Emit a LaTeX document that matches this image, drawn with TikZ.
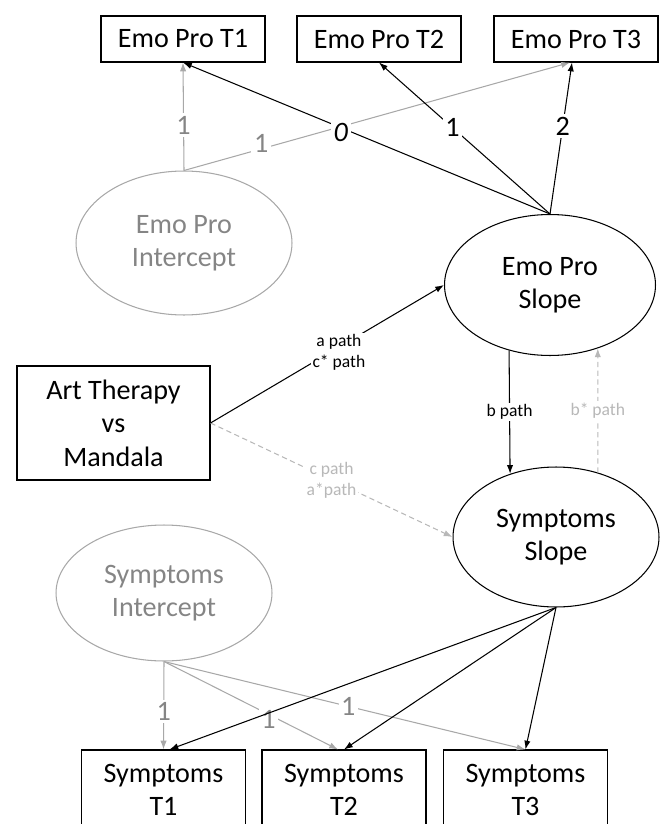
\documentclass[tikz,border=0pt]{standalone}
\usepackage{fontspec}
\setmainfont{Carlito}
\usetikzlibrary{shapes.geometric,arrows.meta}

\definecolor{lightline}{gray}{0.66}
\definecolor{lighttext}{gray}{0.52}
\definecolor{dashline}{gray}{0.72}

\tikzset{
  obs/.style={draw,line width=0.6pt,inner sep=0pt,align=center,
    minimum width=3.28cm,minimum height=0.92cm,font=\fontsize{16}{19}\selectfont},
  latent/.style={draw,ellipse,line width=0.6pt,inner sep=0pt,align=center,
    font=\fontsize{16}{19}\selectfont},
  faded/.style={draw=lightline,text=lighttext},
  path/.style={->,>={Latex[length=5pt,width=3.6pt]},line width=0.6pt},
  greypath/.style={path,draw=lightline},
  dashpath/.style={path,draw=dashline,dash pattern=on 3pt off 2pt},
  lbl/.style={fill=white,inner sep=1.5pt,font=\fontsize{16}{19}\selectfont},
  smalllbl/.style={fill=white,inner sep=1pt,align=center,font=\fontsize{10}{12}\selectfont}
}

\begin{document}
\begin{tikzpicture}[x=0.02cm,y=-0.02cm]
\useasboundingbox (0,0) rectangle (662,824);

% emotional processing
\node[obs] (E1) at (183,39) {Emo Pro T1};
\node[obs] (E2) at (379,39) {Emo Pro T2};
\node[obs] (E3) at (576,39) {Emo Pro T3};
\node[latent,faded,minimum width=4.32cm,minimum height=2.88cm] (EI) at (184,243) {Emo Pro\\Intercept};
\node[latent,minimum width=4.22cm,minimum height=2.82cm] (ES) at (550,285) {Emo Pro\\Slope};

% condition
\node[obs,minimum width=3.86cm,minimum height=2.28cm] (AM) at (113.5,423) {Art Therapy\\vs\\Mandala};

% symptoms
\node[latent,minimum width=4.12cm,minimum height=2.8cm] (SS) at (556,537) {Symptoms\\Slope};
\node[latent,faded,minimum width=4.32cm,minimum height=2.72cm] (SI) at (164,593) {Symptoms\\Intercept};
\node[obs,minimum height=1.6cm] (S1) at (163.5,790) {Symptoms\\T1};
\node[obs,minimum height=1.6cm] (S2) at (344,790) {Symptoms\\T2};
\node[obs,minimum height=1.6cm] (S3) at (525.5,790) {Symptoms\\T3};

% intercept loadings
\draw[greypath] (EI.north) -- (E1.south) node[pos=0.42,lbl,text=lighttext] {1};
\draw[greypath] (EI.north) -- ([xshift=-0.12cm]E3.south) node[pos=0.2,lbl,text=lighttext,yshift=3pt] {1};
\draw[greypath] (SI.south) -- (S1.north) node[pos=0.57,lbl,text=lighttext] {1};
\draw[greypath] (SI.south) -- ([xshift=-0.12cm]S2.north) node[pos=0.6,lbl,text=lighttext,yshift=-3pt] {1};
\draw[greypath] (SI.south) -- (S3.north) node[pos=0.51,lbl,text=lighttext] {1};

% slope loadings
\draw[path] (ES.north) -- (E1.south) node[pos=0.57,lbl,yshift=-3pt] {\textit{0}};
\draw[path] (ES.north) -- (E2.south) node[pos=0.57,lbl] {1};
\draw[path] (ES.north) -- ([xshift=-0.08cm]E3.south) node[pos=0.58,lbl] {2};
\draw[path] (SS.south) -- ([xshift=0.12cm]S1.north);
\draw[path] (SS.south) -- (S2.north);
\draw[path] (SS.south) -- (S3.north);

% mediation
\draw[dashpath] (AM.east) -- (SS.west) node[midway,smalllbl,text=dashline] {c path\\a*path};
\draw[dashpath] (SS.57) -- (ES.307) node[midway,smalllbl,text=dashline] {b* path};
\draw[path] (AM.east) -- (ES.west) node[pos=0.55,smalllbl,yshift=-3pt] {a path\\c* path};
\draw[path] (ES.238) -- (SS.126) node[midway,smalllbl] {b path};

\end{tikzpicture}
\end{document}
